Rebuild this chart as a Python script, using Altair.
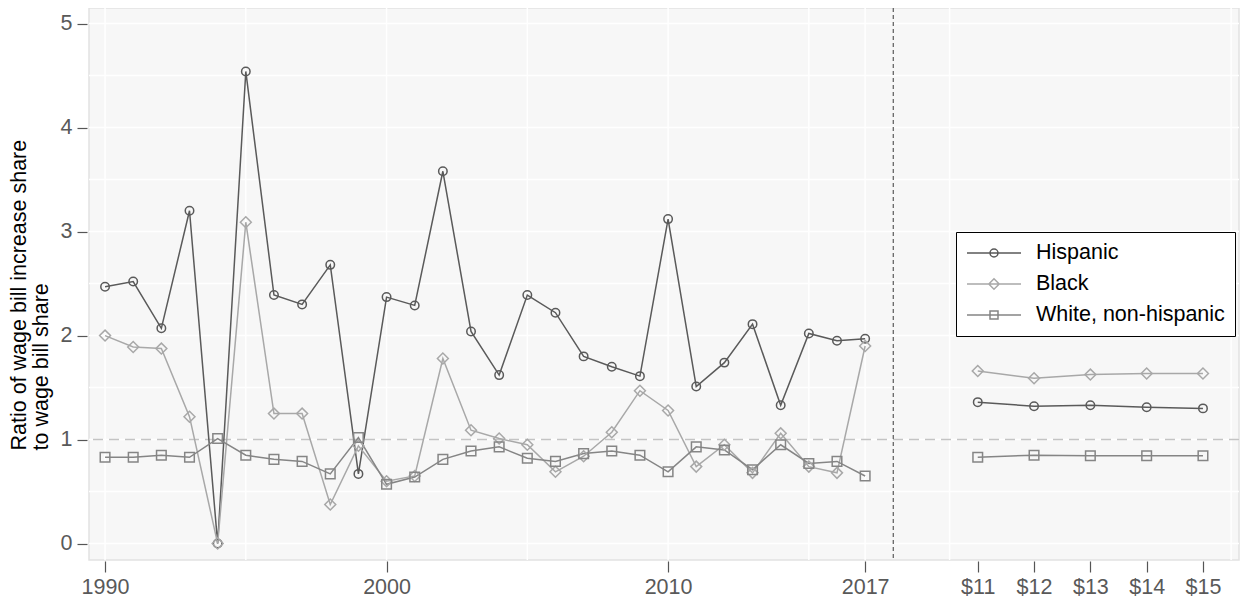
import altair as alt
import pandas as pd

# ---------------- data ----------------
series_names = ["Hispanic", "Black", "White, non-hispanic"]
years = list(range(1990, 2018))
hispanic = [2.47, 2.52, 2.07, 3.20, 0.00, 4.54, 2.39, 2.30, 2.68, 0.67,
            2.37, 2.29, 3.58, 2.04, 1.62, 2.39, 2.22, 1.80, 1.70, 1.61,
            3.12, 1.51, 1.74, 2.11, 1.33, 2.02, 1.95, 1.97]
black = [2.00, 1.89, 1.875, 1.22, 0.00, 3.09, 1.25, 1.25, 0.375, 0.94,
         0.60, 0.65, 1.78, 1.09, 1.01, 0.95, 0.69, 0.84, 1.07, 1.47,
         1.28, 0.74, 0.95, 0.68, 1.06, 0.74, 0.68, 1.90]
white = [0.83, 0.83, 0.85, 0.83, 1.01, 0.85, 0.81, 0.79, 0.67, 1.02,
         0.57, 0.64, 0.81, 0.89, 0.93, 0.82, 0.79, 0.865, 0.89, 0.85,
         0.69, 0.93, 0.90, 0.71, 0.95, 0.77, 0.79, 0.65]

wage_labels = ["$11", "$12", "$13", "$14", "$15"]
wage_x = [2021, 2023, 2025, 2027, 2029]
hispanic_wage = [1.36, 1.32, 1.33, 1.31, 1.30]
black_wage = [1.66, 1.59, 1.625, 1.635, 1.635]
white_wage = [0.83, 0.85, 0.845, 0.845, 0.845]

year_ticks = [1990, 2000, 2010, 2017]
grid_x = [1990, 1995, 2000, 2005, 2010, 2015, 2017, 2020, 2030]
grid_y = [0, 0.5, 1, 1.5, 2, 2.5, 3, 3.5, 4, 4.5, 5]
y_ticks = [0, 1, 2, 3, 4, 5]
ref_y = 1
break_x = 2018

# ---------------- styling ----------------
FONT = "Liberation Sans"
colors = {"Hispanic": "#5a5a5a", "Black": "#a8a8a8", "White, non-hispanic": "#858585"}
shapes = {"Hispanic": "circle", "Black": "diamond", "White, non-hispanic": "square"}
sizes = {"Hispanic": 72, "Black": 120, "White, non-hispanic": 92}
legend_paths = [
    "M-1,0H4.4M2.1,0A0.4,0.4 0 1,1 1.3,0A0.4,0.4 0 1,1 2.1,0",
    "M-1,0H4.4M1.7,-0.52L2.22,0L1.7,0.52L1.18,0Z",
    "M-1,0H4.4M1.3,-0.4H2.1V0.4H1.3Z",
]

hist_vals = {"Hispanic": hispanic, "Black": black, "White, non-hispanic": white}
wage_vals = {"Hispanic": hispanic_wage, "Black": black_wage, "White, non-hispanic": white_wage}

rows = []
for s in series_names:
    for x, v in zip(years, hist_vals[s]):
        rows.append({"x": x, "value": v, "series": s, "seg": "year"})
    for x, v in zip(wage_x, wage_vals[s]):
        rows.append({"x": x, "value": v, "series": s, "seg": "wage"})
df = pd.DataFrame(rows)

xs = alt.Scale(domain=[1989.43, 2030.28], nice=False, zero=False)
ys = alt.Scale(domain=[-0.158, 5.15], nice=False, zero=False)

label_expr = " : ".join(
    f"datum.value == {xv} ? '{lab}'" for xv, lab in zip(wage_x, wage_labels)
) + " : datum.label"

x_axis = alt.Axis(values=year_ticks + wage_x, labelExpr=label_expr, format="d",
                  grid=False, domain=False, ticks=True, tickSize=11, tickColor="#555555",
                  tickWidth=1.2, offset=1, labelFontSize=21.5, labelColor="#595959",
                  labelFont=FONT, labelPadding=4, title=None, labelFlush=False)
y_axis = alt.Axis(values=y_ticks, format="d", grid=False, domain=False, tickSize=10,
                  tickColor="#555555", tickWidth=1.2, offset=2, labelFontSize=21.5,
                  labelColor="#595959", labelFont=FONT, labelPadding=5,
                  title=["Ratio of wage bill increase share", "to wage bill share"],
                  titleFont=FONT, titleFontSize=21.5, titleFontWeight="normal",
                  titleColor="black", titleAngle=270, titleAlign="left",
                  titleBaseline="top", titleX=-79, titleY=442, titleLineHeight=22,
                  titleLimit=600)

def X(field):
    return alt.X(field, type="quantitative", scale=xs, axis=x_axis)

def Y(field):
    return alt.Y(field, type="quantitative", scale=ys, axis=y_axis)

gx = pd.DataFrame({"gx": grid_x})
gy = pd.DataFrame({"gy": grid_y})

grid_v = alt.Chart(gx).mark_rule(color="white", strokeWidth=1.5).encode(x=X("gx"))
grid_h = alt.Chart(gy).mark_rule(color="white", strokeWidth=1.5).encode(y=Y("gy"))

ref = alt.Chart(pd.DataFrame({"r": [ref_y]})).mark_rule(
    color="#c4c4c4", strokeWidth=1.5, strokeDash=[10, 6]).encode(y=Y("r"))
brk = alt.Chart(pd.DataFrame({"b": [break_x]})).mark_rule(
    color="#666666", strokeWidth=1.3, strokeDash=[4, 3]).encode(x=X("b"))

layers = [grid_v, grid_h, ref, brk]
for s in series_names:
    sub = df[df.series == s]
    layers.append(alt.Chart(sub).mark_line(color=colors[s], strokeWidth=1.5).encode(
        x=X("x"), y=Y("value"), detail="seg:N"))
for s in series_names:
    sub = df[df.series == s]
    layers.append(alt.Chart(sub).mark_point(
        shape=shapes[s], size=sizes[s], color=colors[s], filled=False,
        strokeWidth=1.5, opacity=1).encode(x=X("x"), y=Y("value")))

# legend-only layer (point kept outside the clipped view)
leg_df = pd.DataFrame({"lx": [1900] * 3, "ly": [0] * 3, "series": series_names})
leg = alt.Legend(title=None, orient="none", legendX=867, legendY=224,
                 strokeColor="black", fillColor="white", padding=10,
                 labelFont=FONT, labelFontSize=21.5, labelColor="black",
                 labelOffset=48, rowPadding=9, symbolSize=400, labelLimit=600,
                 symbolStrokeWidth=1.5)
legend_layer = alt.Chart(leg_df).mark_point(filled=False, clip=True, strokeWidth=1.5, opacity=1).encode(
    x=X("lx"), y=Y("ly"),
    shape=alt.Shape("series:N", scale=alt.Scale(domain=series_names, range=legend_paths), legend=leg),
    stroke=alt.Stroke("series:N", scale=alt.Scale(domain=series_names,
                                                  range=[colors[s] for s in series_names]), legend=leg),
)
layers.append(legend_layer)

chart = alt.layer(*layers).properties(
    width=1150, height=552,
    autosize=alt.AutoSizeParams(type="none"),
    padding={"left": 81, "top": 0, "right": 3, "bottom": 37},
).configure_view(fill="#f7f7f7", stroke="#e2e2e2", strokeWidth=1.5)

chart.save("out.html", embed_options={"renderer": "svg", "actions": False})
